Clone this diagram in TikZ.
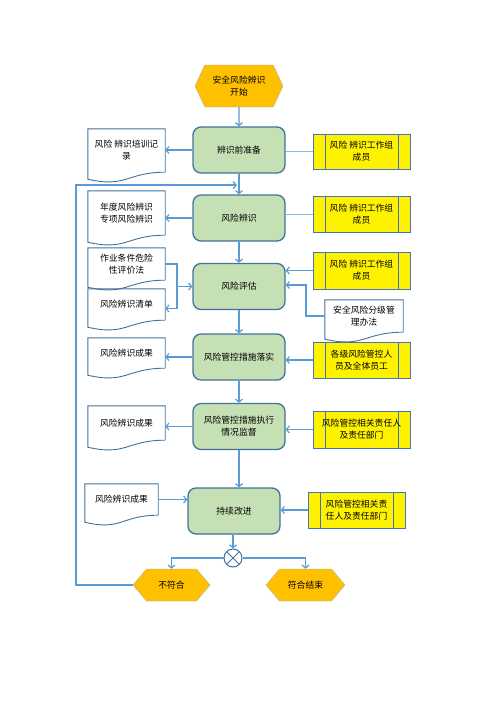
\documentclass[tikz,border=0pt]{standalone}
\usepackage{fontspec}
\setmainfont{Noto Sans CJK SC}
\usetikzlibrary{arrows.meta,calc,shapes.symbols}
\definecolor{flowblue}{HTML}{5B9BD5}
\definecolor{boxedge}{HTML}{41719C}
\definecolor{boxgreen}{HTML}{C5E0B4}
\definecolor{gold}{HTML}{FFC000}
\definecolor{teamedge}{HTML}{4472C4}
\begin{document}
\begin{tikzpicture}[x=1pt,y=-1pt,font=\fontsize{8.8}{12}\selectfont]
    \tikzstyle{steps}=[draw=boxedge,fill=boxgreen,line width=1.3pt,rounded corners=8pt,minimum width=92pt,minimum height=46pt,align=center,inner sep=2pt]
    \tikzstyle{ends}=[signal,signal to=east and west,draw=gray!60,fill=gold,align=center,inner sep=1pt]
    \tikzstyle{docs}=[minimum width=77pt,align=center,inner sep=1pt]
    \tikzstyle{doclines}=[draw=boxedge,line width=0.9pt]
    \tikzstyle{teams}=[draw=teamedge,fill=yellow,line width=0.9pt,minimum width=97pt,minimum height=36pt,align=center,inner sep=1pt,
      path picture={\draw[teamedge,line width=0.9pt]
        ([xshift=12pt]path picture bounding box.north west) -- ([xshift=12pt]path picture bounding box.south west)
        ([xshift=-12pt]path picture bounding box.north east) -- ([xshift=-12pt]path picture bounding box.south east);}]
    \tikzstyle{flows}=[draw=flowblue,line width=1.2pt,-{Straight Barb[length=3pt,width=7pt]}]
    \tikzstyle{links}=[draw=flowblue!70,line width=1pt]

    \useasboundingbox (0,0) rectangle (496,702);

    % main steps
    \node[ends,minimum width=88pt,minimum height=42pt,signal pointer angle=130] (start) at (239,86) {安全风险辨识\\开始};
    \node[steps] (b1) at (239,150) {辨识前准备};
    \node[steps] (b2) at (239,218) {风险辨识};
    \node[steps] (b3) at (239,286.5) {风险评估};
    \node[steps] (b4) at (239,357) {风险管控措施落实};
    \node[steps] (b5) at (239,426.5) {风险管控措施执行\\情况监督};
    \node[steps] (b6) at (234,511) {持续改进};
    \node[draw=boxedge,line width=1pt,circle,minimum size=18pt,inner sep=0pt,
      path picture={\draw[boxedge,line width=1pt] (path picture bounding box.north west) -- (path picture bounding box.south east)
        (path picture bounding box.north east) -- (path picture bounding box.south west);}] (xo) at (233,558) {};
    \node[ends,minimum width=77pt,minimum height=32pt,signal pointer angle=100] (nf) at (171.5,585) {不符合};
    \node[ends,minimum width=79pt,minimum height=32pt,signal pointer angle=100] (ok) at (305.5,585) {符合结束};

    % records
    \node[docs,minimum height=43pt] (d1) at (126.5,150.5) {风险 辨识培训记\\录};
    \node[docs,minimum height=44pt] (d2) at (126.5,213) {年度风险辨识\\专项风险辨识};
    \node[docs,minimum height=32pt] (d3) at (126.5,264) {作业条件危险\\性评价法};
    \node[docs,minimum height=31pt] (d4) at (126.5,304.5) {风险辨识清单};
    \node[docs,minimum height=32pt,minimum width=78pt] (d5) at (364,316) {安全风险分级管\\理办法};
    \node[docs,minimum height=30pt] (d6) at (126.5,353) {风险辨识成果};
    \node[docs,minimum height=34pt] (d7) at (126.5,423) {风险辨识成果};
    \node[docs,minimum height=31pt,minimum width=73pt] (d8) at (121.5,499.5) {风险辨识成果};
    \foreach \d in {d1,d2,d3,d4,d5,d6,d7,d8}
      \draw[doclines] (\d.south east) -- (\d.north east) -- (\d.north west) -- ($(\d.south west)+(0,7)$)
        .. controls ($(\d.south)+(0,16)$) and (\d.south) .. (\d.south east);

    % teams
    \node[teams,minimum height=35pt] (y1) at (361.5,151.5) {风险 辨识工作组\\成员};
    \node[teams] (y2) at (361.5,214) {风险 辨识工作组\\成员};
    \node[teams,minimum height=37pt] (y3) at (361.5,270.5) {风险 辨识工作组\\成员};
    \node[teams] (y4) at (361.5,360) {各级风险管控人\\员及全体员工};
    \node[teams,minimum height=37pt] (y5) at (361.5,429.5) {风险管控相关责任人\\及责任部门};
    \node[teams] (y6) at (356.5,510) {风险管控相关责\\任人及责任部门};

    % main flow
    \draw[flows] (start) -- (b1);
    \draw[flows] (b1) -- (b2);
    \draw[flows] (b2) -- (b3);
    \draw[flows] (b3) -- (b4);
    \draw[flows] (b4) -- (b5);
    \draw[flows] (b5.south) -- (b5.south |- b6.north);
    \draw[flows] (b6.south -| xo) -- (xo);
    \draw[flows] (xo.west) -| (nf.north);
    \draw[flows] (xo.east) -| (ok.north);
    \coordinate (fb) at (76,185);
    \coordinate (fbend) at (237,185);
    \draw[flows] (nf.west) -| (fb) -- (fbend);

    % records and teams
    \draw[flows] (b1.west) -- (b1.west -| d1.east);
    \draw[flows] (b2.west) -- (b2.west -| d2.east);
    \draw[flows] (b4.west) -- (b4.west -| d6.east);
    \draw[flows] (b5.west) -- (b5.west -| d7.east);
    \draw[flows] (d8.east) -- (d8.east -| b6.west);
    \draw[links] (y1.west) -- (y1.west -| b1.east);
    \draw[links] (y2.west) -- (y2.west -| b2.east);
    \draw[flows] (y3.west) -- (y3.west -| b3.east);
    \draw[flows] (y4.west) -- (y4.west -| b4.east);
    \draw[flows] (y5.west) -- (y5.west -| b5.east);
    \draw[flows] (y6.west) -- (y6.west -| b6.east);
    \coordinate (jl) at (177,286.5);
    \coordinate (jr) at (306,285);
    \draw[flows] (d3.east) -| (jl) -- (b3.west);
    \draw[flows] (jl) |- ($(d4.east)+(0,4)$);
    \draw[flows] (d5.west) -| (jr) -- (jr -| b3.east);
\end{tikzpicture}
\end{document}
